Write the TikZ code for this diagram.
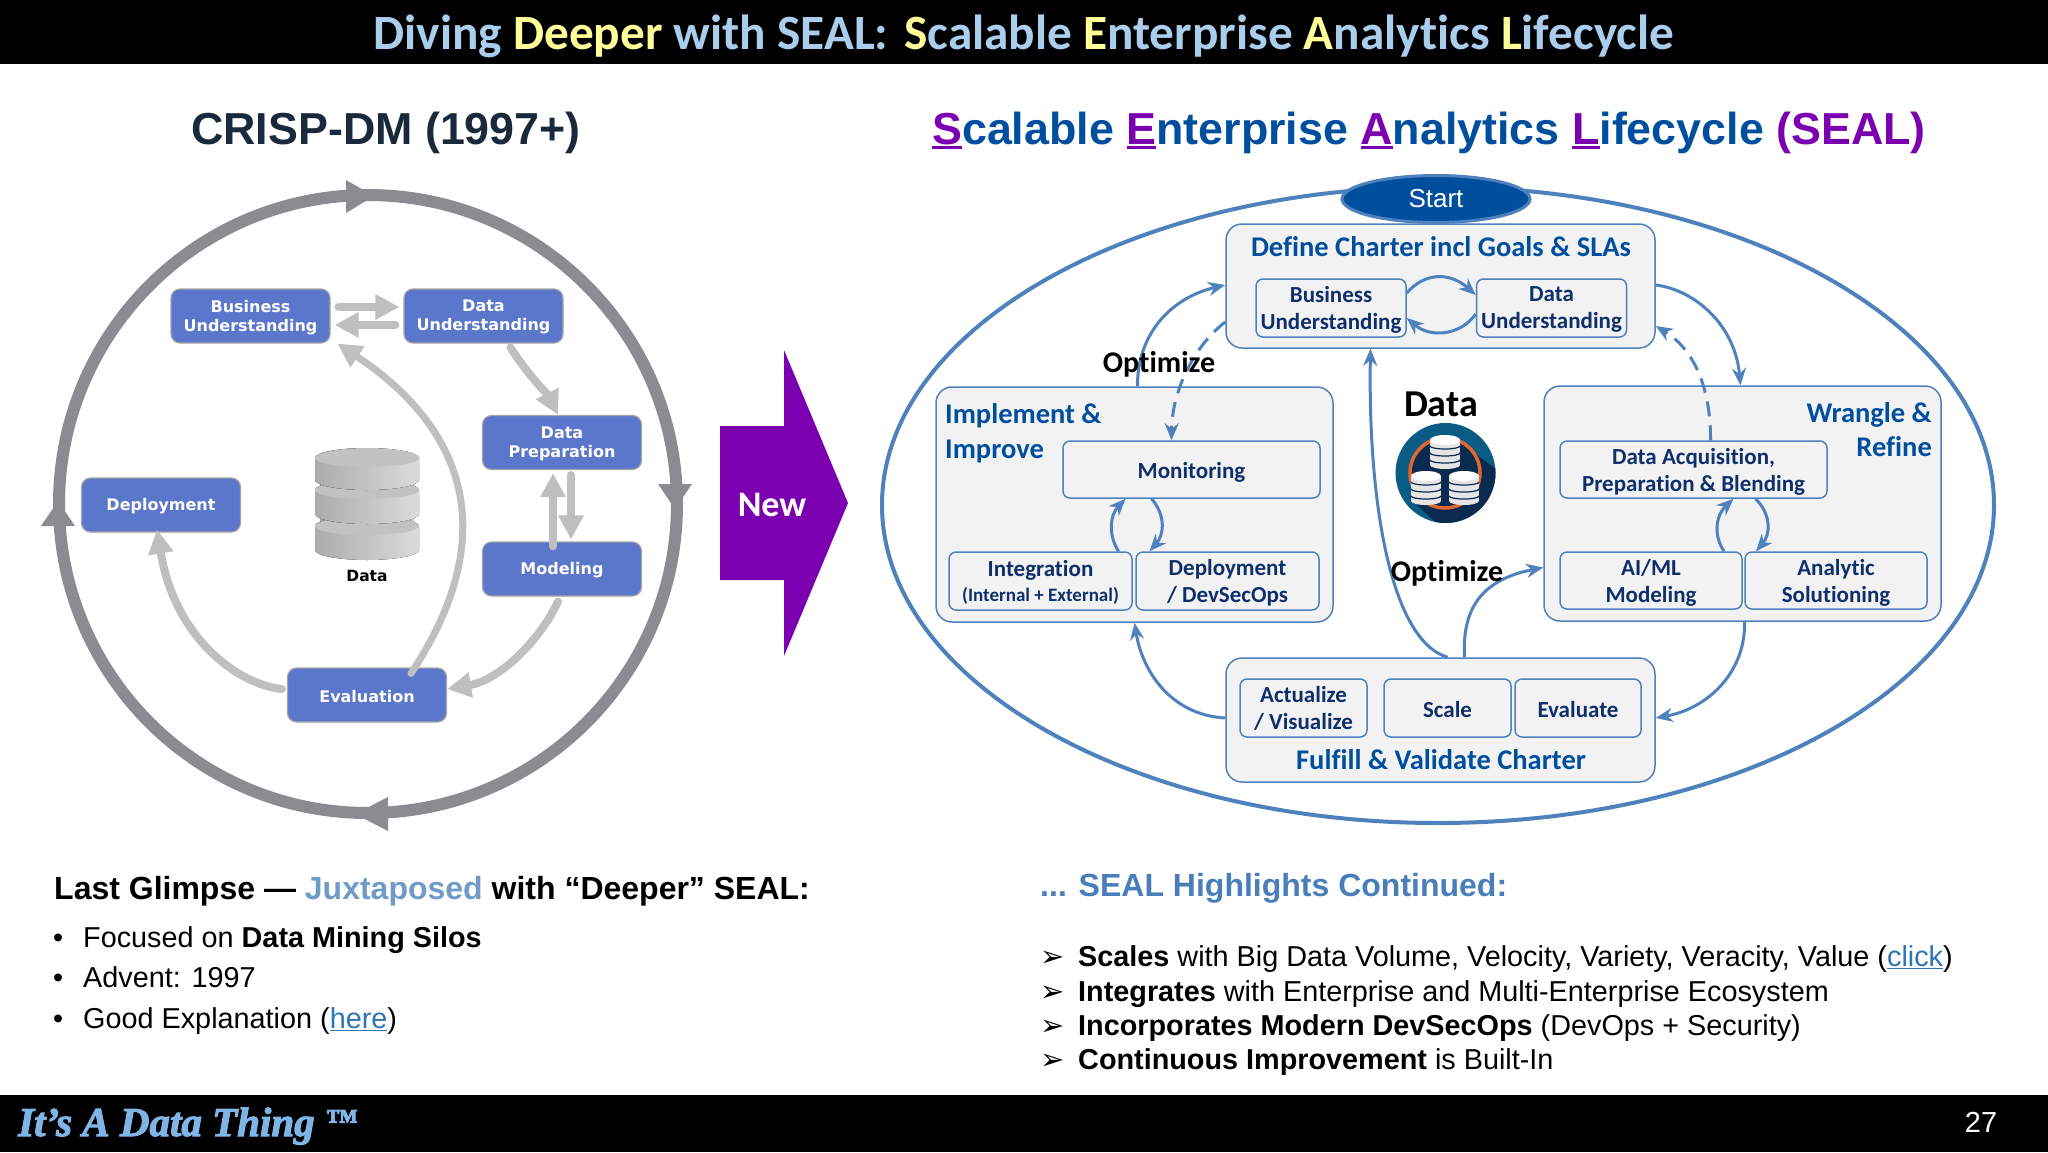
\documentclass[tikz,border=0pt]{standalone}
\usepackage{fontspec}
\setmainfont{Liberation Sans}
\newfontfamily\carlito[Ligatures=NoCommon]{Carlito}
\newfontfamily\dejavu{DejaVu Sans}
\newfontfamily\logofont[BoldItalicFeatures={FakeBold=2.5}]{Liberation Serif}
\usetikzlibrary{arrows.meta,shapes.geometric}

\definecolor{titleblue}{HTML}{A9CDEB}
\definecolor{titleyellow}{HTML}{FFFF99}
\definecolor{crispdark}{HTML}{1B2A3A}
\definecolor{sealblue}{HTML}{004F9F}
\definecolor{sealpurple}{HTML}{7B00B0}
\definecolor{crispfill}{HTML}{5B77CB}
\definecolor{ringgrey}{HTML}{8C8C90}
\definecolor{flowgrey}{HTML}{BFBFBF}
\definecolor{flowblue}{HTML}{4F81BD}
\definecolor{boxgrey}{HTML}{F2F2F2}
\definecolor{innernavy}{HTML}{0F2F6B}
\definecolor{linkblue}{HTML}{2E75B6}
\definecolor{headblue}{HTML}{4A7EBB}
\definecolor{juxtblue}{HTML}{6F9BC8}
\definecolor{logoblue}{HTML}{7FB5E6}
\definecolor{dbteal}{HTML}{0B5C85}
\definecolor{dbnavy}{HTML}{0B2A4F}
\definecolor{dbring}{HTML}{E2672F}

\newcommand{\fsz}[2]{\fontsize{#1}{#2}\selectfont}
% underlined letter, with a rule that fits the big text
\newcommand{\ulet}[3]{\setbox0\hbox{#3}\rlap{\rule[#1]{\wd0}{#2}}\box0}
\newcommand{\sealu}[1]{{\color{sealpurple}\ulet{-5pt}{3pt}{#1}}}
\newcommand{\ttl}[1]{{\color{titleyellow}#1}}

\tikzset{
    crispbox/.style  = {rectangle, rounded corners=9pt, draw=gray!70, line width=1.2pt, fill=crispfill,
                        text=white, minimum width=159pt, minimum height=54pt, inner sep=0pt, align=center,
                        font=\dejavu\bfseries\fsz{16}{19}, execute at begin node={\rule{0pt}{14.5pt}}},
    crisptwo/.style  = {crispbox, text depth=1pt},
    sealbox/.style   = {rectangle, rounded corners=16pt, draw=flowblue, line width=1.5pt, fill=boxgrey},
    innerbox/.style  = {rectangle, rounded corners=7pt, draw=flowblue, line width=1.5pt, fill=boxgrey,
                        text=innernavy, inner sep=0pt, align=center, font=\carlito\bfseries\fsz{23}{27},
                        execute at begin node={\rule{0pt}{21pt}}},
    innertwo/.style  = {innerbox, text depth=-2pt},
    seallabel/.style = {inner sep=0pt, text=sealblue, font=\carlito\bfseries\fsz{28.5}{35}},
    optlabel/.style  = {inner sep=0pt, anchor=base, font=\carlito\bfseries\fsz{30}{35}},
    flow/.style      = {draw=flowblue, line width=3pt, -{Stealth[length=17pt,width=14pt]}},
    dashflow/.style  = {flow, dash pattern=on 15pt off 9pt},
    greyflow/.style  = {draw=flowgrey, line width=8pt, line cap=round, -{Triangle[length=24pt,width=24pt]}},
    textline/.style  = {inner sep=0pt, anchor=base west, font=\fsz{28.8}{33}}
}

\begin{document}
\begin{tikzpicture}[x=1pt, y=-1pt]
    \useasboundingbox (0,0) rectangle (2048,1152);
    \fill[white] (0,0) rectangle (2048,1152);

    % Header and footer bars
    \fill[black] (0,0) rectangle (2048,64);
    \fill[black] (0,1095) rectangle (2048,1152);
    \node[inner sep=0pt, anchor=base, text=titleblue, font=\carlito\bfseries\fsz{49.3}{56}] (title) at (1024,49)
        {Diving \ttl{Deeper} with SEAL:\hspace{16pt}\ttl{S}calable \ttl{E}nterprise \ttl{A}nalytics \ttl{L}ifecycle};
    \node[inner sep=0pt, anchor=base west, text=logoblue, font=\logofont\bfseries\itshape\fsz{41}{50}] (logo) at (18,1136)
        {It’s A Data Thing \raisebox{5pt}{\fsz{32}{36}™}};
    \node[inner sep=0pt, anchor=base, text=white, font=\fsz{29}{34}] (page) at (1981,1132) {27};

    % Titles of the two halves
    \node[inner sep=0pt, anchor=base, text=crispdark, font=\bfseries\fsz{44.8}{52}] (crisptitle) at (386,144) {CRISP-DM (1997+)};
    \node[inner sep=0pt, anchor=base, text=sealblue, font=\bfseries\fsz{44.8}{52}] (sealtitle) at (1429,144)
        {\sealu{S}calable \sealu{E}nterprise \sealu{A}nalytics \sealu{L}ifecycle {\color{sealpurple}(SEAL)}};

    % CRISP-DM ring
    \draw[ringgrey, line width=12pt] (368,504) circle [radius=309pt];
    \fill[ringgrey] (346,180) -- (374,196) -- (346,213) -- cycle;  % top
    \fill[ringgrey] (658,484) -- (692,484) -- (675,509) -- cycle;  % right
    \fill[ringgrey] (388,797) -- (355,814) -- (388,831) -- cycle;  % bottom
    \fill[ringgrey] (41,526) -- (75,526) -- (58,501) -- cycle;     % left

    % CRISP-DM stages
    \node[crisptwo] (cbusiness) at (250.5,316)  {Business\\Understanding};
    \node[crisptwo] (cdata)     at (483.5,316)  {Data\\Understanding};
    \node[crisptwo] (cprep)     at (562,442.5)  {Data\\Preparation};
    \node[crispbox] (cmodel)    at (562,569)    {Modeling};
    \node[crispbox] (cdeploy)   at (161,505)    {Deployment};
    \node[crispbox] (ceval)     at (367,695)    {Evaluation};

    % Database in the middle of the ring
    \fill[left color=gray!70, right color=gray!35] (320,458) rectangle (414,550);
    \foreach \top/\high in {526/24, 490/24, 458/22} {
        \fill[left color=gray!65, right color=gray!28] (315,\top) -- (315,\top+\high)
            arc[start angle=180, end angle=360, x radius=52pt, y radius=10pt] -- (419,\top)
            arc[start angle=0, end angle=180, x radius=52pt, y radius=10pt] -- cycle;
        \fill[gray!48] (367,\top) ellipse [x radius=52pt, y radius=9pt];
    }
    \node[inner sep=0pt, anchor=base, font=\dejavu\bfseries\fsz{15.5}{19}] (cdb) at (367,581) {Data};

    % CRISP-DM flow
    \draw[greyflow] ([xshift=8pt,yshift=9pt]cbusiness.east) -- ([xshift=-4pt,yshift=9pt]cdata.west);
    \draw[greyflow] ([xshift=-8pt,yshift=-9pt]cdata.west) -- ([xshift=4pt,yshift=-9pt]cbusiness.east);
    \draw[greyflow] ([xshift=27pt,yshift=-4pt]cdata.south) .. controls (528,375) and (548,395) .. ([xshift=-4pt]cprep.north);
    \draw[greyflow] ([xshift=-9pt,yshift=-5pt]cmodel.north) -- ([xshift=-9pt,yshift=-3pt]cprep.south);
    \draw[greyflow] ([xshift=9pt,yshift=-5pt]cprep.south) -- ([xshift=9pt,yshift=2pt]cmodel.north);
    \draw[greyflow, line width=7pt] ([xshift=44pt,yshift=-6pt]ceval.north) .. controls (506,530) and (460,425) .. ([xshift=87pt]cbusiness.south);
    \draw[greyflow] ([xshift=-4pt,yshift=-5pt]cmodel.south) .. controls (540,640) and (500,680) .. ([yshift=6pt]ceval.east);
    \draw[greyflow] ([xshift=-5pt,yshift=6pt]ceval.west) .. controls (240,685) and (175,640) .. ([xshift=-4pt,yshift=3pt]cdeploy.south);

    % Big arrow between the halves
    \fill[sealpurple] (720,426) -- (784,426) -- (784,350) -- (848,503) -- (784,656) -- (784,580) -- (720,580) -- cycle;
    \node[inner sep=0pt, anchor=base, text=white, font=\carlito\bfseries\fsz{36}{44}] (newlabel) at (772,516) {New};

    % SEAL outer ellipse
    \draw[flowblue, line width=4pt] (1438,505) ellipse [x radius=556pt, y radius=318pt];
    \node[ellipse, draw=flowblue, line width=3pt, fill=sealblue, text=white, minimum width=188pt, minimum height=47pt,
          inner sep=0pt, font=\fsz{26}{30}] (start) at (1436,199) {Start};

    % SEAL stages
    \node[sealbox, minimum width=429pt, minimum height=124pt] (charter) at (1440.5,286) {};
    \node[sealbox, minimum width=397pt, minimum height=235pt] (implement) at (1134.5,504.5) {};
    \node[sealbox, minimum width=397pt, minimum height=235pt] (wrangle) at (1742.5,503.5) {};
    \node[sealbox, minimum width=429pt, minimum height=124pt] (fulfill) at (1440.5,720) {};

    \node[innertwo, minimum width=150pt, minimum height=58pt] (sbusiness) at (1331,308)     {Business\\Understanding};
    \node[innertwo, minimum width=150pt, minimum height=58pt] (sdata)     at (1551.5,308)   {Data\\Understanding};
    \node[innerbox, minimum width=257pt, minimum height=57pt] (monitor)   at (1191.5,469.5) {Monitoring};
    \node[innertwo, minimum width=183pt, minimum height=58pt] (integ)     at (1040.5,581)   {Integration\\[-2pt]{\fsz{19}{22}(Internal + External)}};
    \node[innertwo, minimum width=183pt, minimum height=58pt] (deploy)    at (1227.5,581)   {Deployment\\/ DevSecOps};
    \node[innertwo, minimum width=267pt, minimum height=57pt] (acquire)   at (1693.5,469.5) {Data Acquisition,\\Preparation \& Blending};
    \node[innertwo, minimum width=182pt, minimum height=57pt] (aiml)      at (1651,580.5)   {AI/ML\\Modeling};
    \node[innertwo, minimum width=182pt, minimum height=57pt] (analytic)  at (1836,580.5)   {Analytic\\Solutioning};
    \node[innerbox, minimum width=127pt, minimum height=58pt] (actualize) at (1303.5,708)   {Actualize\\/ Visualize};
    \node[innerbox, minimum width=127pt, minimum height=58pt, text depth=3pt] (scale)     at (1447.5,708) {Scale};
    \node[innerbox, minimum width=126pt, minimum height=58pt, text depth=3pt] (evaluate)  at (1578,708)   {Evaluate};

    % SEAL flow between the stages
    \draw[flow] ([xshift=3pt]implement.north) .. controls (1137,335) and (1170,298) .. ([yshift=1pt]charter.west);
    \draw[dashflow] ([yshift=-36pt]charter.west) .. controls (1195,345) and (1172,390) .. ([xshift=-20pt]monitor.north);
    \draw[flow] ([yshift=1pt]charter.east) .. controls (1695,290) and (1735,325) .. ([xshift=-2pt]wrangle.north);
    \draw[dashflow] ([xshift=17pt]acquire.north) .. controls (1711,390) and (1695,350) .. ([yshift=-40pt]charter.east);
    \draw[flow] ([xshift=7pt]fulfill.north) .. controls (1390,640) and (1368,500) .. ([xshift=-70pt]charter.south);
    \draw[flow] ([xshift=24pt]fulfill.north) .. controls (1462,610) and (1480,580) .. ([yshift=-64pt]wrangle.west);
    \draw[flow] ([xshift=2pt]wrangle.south) .. controls (1746,670) and (1710,708) .. ([yshift=2pt]fulfill.east);
    \draw[flow] ([yshift=2pt]fulfill.west) .. controls (1170,715) and (1142,670) .. (implement.south);

    % SEAL flow inside the stages
    \draw[flow] ([yshift=15pt]sbusiness.east) .. controls (1425,272) and (1450,272) .. ([yshift=13pt]sdata.west);
    \draw[flow] ([yshift=-6pt]sdata.west) .. controls (1460,336) and (1430,338) .. ([yshift=-10pt]sbusiness.east);
    \draw[flow] ([xshift=78pt]integ.north) .. controls (1108,535) and (1110,515) .. ([xshift=-66pt]monitor.south);
    \draw[flow] ([xshift=-40pt]monitor.south) .. controls (1166,515) and (1164,535) .. ([xshift=-78pt]deploy.north);
    \draw[flow] ([xshift=73pt]aiml.north) .. controls (1713,535) and (1716,515) .. ([xshift=40pt]acquire.south);
    \draw[flow] ([xshift=62pt]acquire.south) .. controls (1772,515) and (1770,535) .. ([xshift=-80pt]analytic.north);

    % Labels of the stages
    \node[seallabel, anchor=base] (chartertext) at (1441,256) {Define Charter incl Goals \& SLAs};
    \node[seallabel, anchor=base] (fulfilltext) at (1441,769) {Fulfill \& Validate Charter};
    \node[seallabel, anchor=base west] (impltext1) at (945,423) {Implement \&};
    \node[seallabel, anchor=base west] (impltext2) at (945,458) {Improve};
    \node[seallabel, anchor=base east] (wrantext1) at (1932,422) {Wrangle \&};
    \node[seallabel, anchor=base east] (wrantext2) at (1932,456) {Refine};
    \node[optlabel] (optimizea) at (1159,372) {Optimize};
    \node[optlabel] (optimizeb) at (1447,581) {Optimize};
    \node[optlabel, font=\carlito\bfseries\fsz{38}{44}] (sealdata) at (1441,416) {Data};

    % Data icon
    \fill[dbteal] (1445.5,473) circle [radius=50pt];
    \begin{scope}
        \clip (1445.5,473) circle [radius=50pt];
        \fill[dbnavy] (1460,442) -- (1497,470) -- (1497,527) -- (1440,527) -- (1412,500) -- cycle;
    \end{scope}
    \draw[dbring, line width=3.5pt, fill=dbnavy] (1445,473) circle [radius=35pt];
    \foreach \cx/\cy in {1445/436, 1426/472, 1464/472} {
        \fill[gray!20] (\cx-15,\cy+4) rectangle (\cx+15,\cy+29);
        \fill[gray!20] (\cx,\cy+29) ellipse [x radius=15pt, y radius=4pt];
        \fill[white] (\cx,\cy+4) ellipse [x radius=15pt, y radius=5pt];
        \foreach \dy in {10, 17, 24}
            \draw[dbnavy, line width=1.2pt] (\cx-15,\cy+\dy) arc[start angle=180, end angle=360, x radius=15pt, y radius=3pt];
    }

    % Text at the bottom left
    \node[textline, font=\bfseries\fsz{32}{38}] (lefthead) at (54,899)
        {Last Glimpse — {\color{juxtblue}Juxtaposed} with “Deeper” SEAL:};
    \node[textline] (left1) at (53,947)  {\makebox[30pt][l]{•}Focused on \textbf{Data Mining Silos}};
    \node[textline] (left2) at (53,987)  {\makebox[30pt][l]{•}Advent: 1997};
    \node[textline] (left3) at (53,1028) {\makebox[30pt][l]{•}Good Explanation ({\color{linkblue}\ulet{-3pt}{1.5pt}{here}})};

    % Text at the bottom right
    \node[textline, text=headblue, font=\bfseries\fsz{32}{38}] (righthead) at (1040,896) {... SEAL Highlights Continued:};
    \node[textline] (right1) at (1040,966)
        {\makebox[38pt][l]{\dejavu\fsz{29}{33}➢}\textbf{Scales} with Big Data Volume, Velocity, Variety, Veracity, Value ({\color{linkblue}\ulet{-3pt}{1.5pt}{click}})};
    \node[textline] (right2) at (1040,1001)
        {\makebox[38pt][l]{\dejavu\fsz{29}{33}➢}\textbf{Integrates} with Enterprise and Multi-Enterprise Ecosystem};
    \node[textline] (right3) at (1040,1035)
        {\makebox[38pt][l]{\dejavu\fsz{29}{33}➢}\textbf{Incorporates Modern DevSecOps} (DevOps + Security)};
    \node[textline] (right4) at (1040,1069)
        {\makebox[38pt][l]{\dejavu\fsz{29}{33}➢}\textbf{Continuous Improvement} is Built-In};
\end{tikzpicture}
\end{document}
